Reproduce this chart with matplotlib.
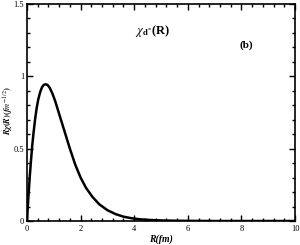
"""
Fonction d'onde radiale chi_d*(R), panneau (b)
"""
import matplotlib
matplotlib.use("Agg")
import matplotlib.pyplot as plt
from matplotlib.ticker import MultipleLocator

# Valeurs
r_fm = [0.0, 0.05, 0.1, 0.15, 0.2, 0.25, 0.3, 0.36, 0.42, 0.49, 0.56, 0.63, 0.7,
        0.77, 0.85, 0.95, 1.05, 1.15, 1.25, 1.4, 1.6, 1.8, 2.0, 2.2, 2.45,
        2.7, 3.0, 3.3, 3.6, 3.9, 4.2, 4.6, 5.0, 5.5, 6.0, 7.0, 8.0, 9.0, 10.0]
chi = [0.0, 0.16, 0.30, 0.42, 0.53, 0.62, 0.70, 0.78, 0.84, 0.89, 0.925, 0.942, 0.945,
       0.94, 0.92, 0.88, 0.83, 0.77, 0.71, 0.62, 0.50, 0.39, 0.30, 0.23, 0.165,
       0.115, 0.075, 0.048, 0.030, 0.019, 0.012, 0.007, 0.004, 0.002, 0.001, 0.0, 0.0, 0.0, 0.0]

x_ticks = [0, 2, 4, 6, 8, 10]
y_ticks = [0, 0.5, 1, 1.5]
y_labels = ["0", "0.5", "1", "1.5"]

plt.rcParams['font.family'] = ['Liberation Serif', 'DejaVu Serif']
plt.rcParams['mathtext.fontset'] = 'stix'

fig = plt.figure(figsize=(3.0, 2.45), dpi=100)
ax = fig.add_axes([27 / 300, 1 - 221 / 245, 268 / 300, 217 / 245])

ax.plot(r_fm, chi, color='black', linewidth=1.8)

ax.set_xlim(0, 10)
ax.set_ylim(0, 1.5)
ax.set_xticks(x_ticks)
ax.set_xticklabels([str(t) for t in x_ticks])
ax.set_yticks(y_ticks)
ax.set_yticklabels(y_labels)
ax.xaxis.set_minor_locator(MultipleLocator(0.4))
ax.yaxis.set_minor_locator(MultipleLocator(0.1))
ax.tick_params(which='both', direction='in', top=True, right=True,
               labelsize=6, width=1, pad=2)
ax.tick_params(axis='x', pad=3)
ax.tick_params(which='major', length=4)
ax.tick_params(which='minor', length=2)
for s in ax.spines.values():
    s.set_linewidth(1.2)

ax.set_xlabel("R(fm)", fontsize=7, fontstyle='italic', fontweight='bold', labelpad=1)
# label de l'axe y place a la main pour qu'il tienne dans la figure
fig.text(9 / 300, 1 - 111 / 245, r"$\boldsymbol{R\chi(R)(fm^{-1/2})}$",
         fontsize=6, rotation=90, ha='center', va='center')

ax.text(0.47, 0.875, r"$\chi_{\mathbf{d^{*}}}$(R)", transform=ax.transAxes,
        fontsize=9, fontweight='bold', ha='center', va='center')
ax.text(0.82, 0.81, "(b)", transform=ax.transAxes,
        fontsize=8, fontweight='bold', ha='center', va='center')

plt.savefig('out.png', dpi=100)
plt.close()
